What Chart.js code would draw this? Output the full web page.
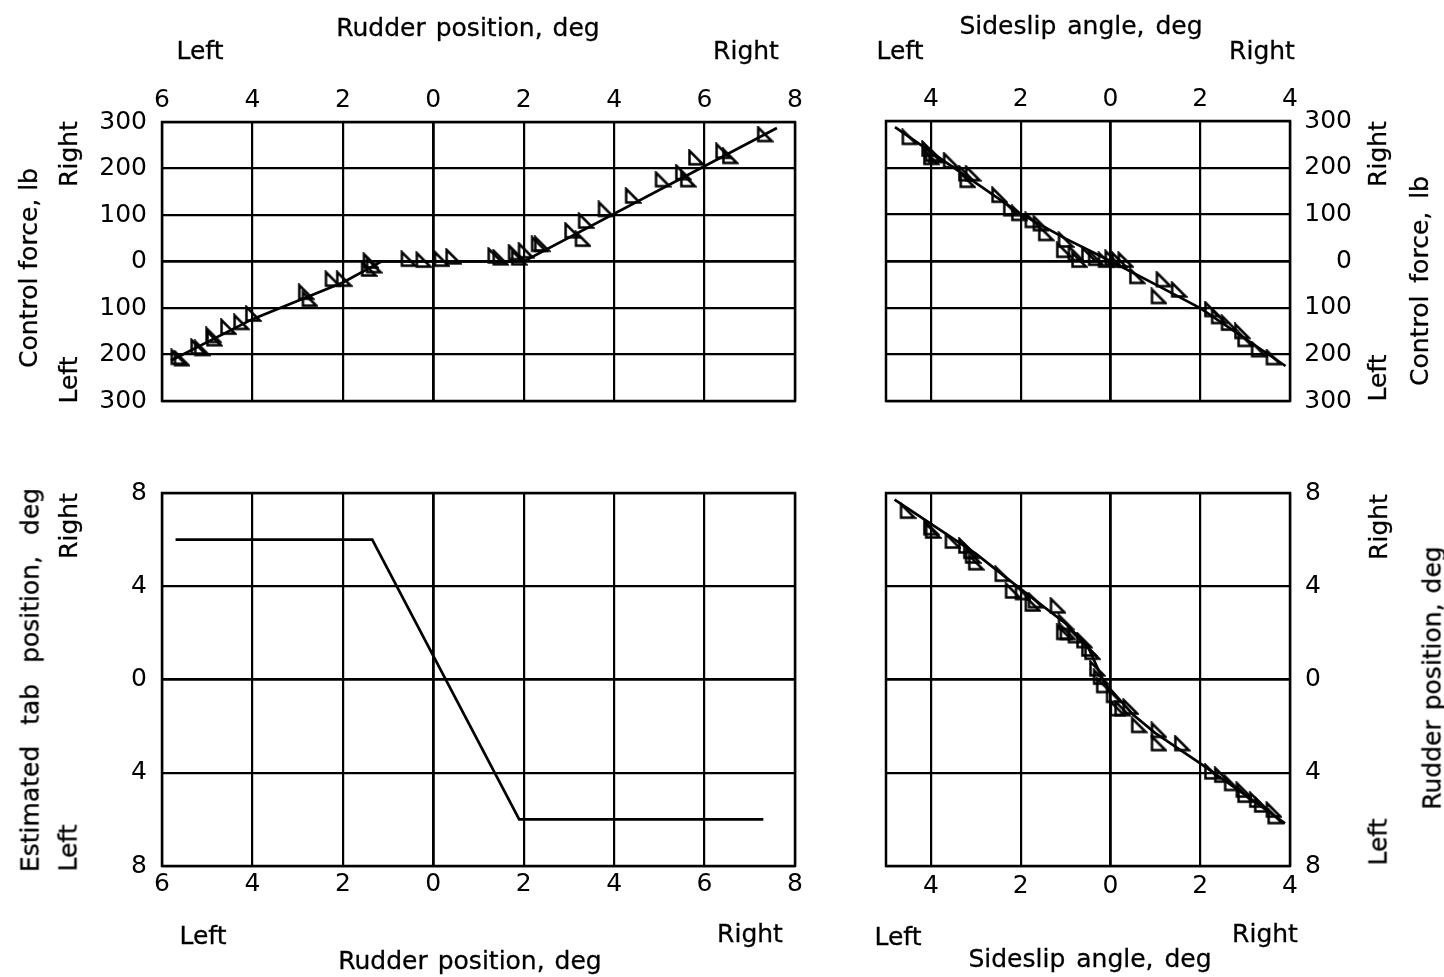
<!DOCTYPE html>
<html><head><meta charset="utf-8">
<script src="https://cdn.jsdelivr.net/npm/chart.js@4.4.1/dist/chart.umd.min.js"></script>
<style>
html,body{margin:0;padding:0;background:#fff;}
#page{position:relative;width:1444px;height:977px;overflow:hidden;background:#fff;}
#page canvas{position:absolute;left:0;top:0;pointer-events:none;}
.lbl{position:absolute;font-family:"DejaVu Sans",sans-serif;font-size:25px;color:#000;white-space:nowrap;line-height:1;transform:translate(-50%,-50%);-webkit-text-stroke:0.3px #000;}
.rot{transform:translate(-50%,-50%) rotate(-90deg);}
</style></head><body><div id="page"></div>
<script>
// ---------------- DATA ----------------
// Tick values
const xTicksRudder = [-6,-4,-2,0,2,4,6,8];
const xTicksBeta   = [-4,-2,0,2,4];
const yTicksForce  = [-300,-200,-100,0,100,200,300];
const yTicksDeg    = [-8,-4,0,4,8];

// Top-left: rudder position (deg) vs control force (lb) - test points
const rudderTL = [-5.64,-5.57,-5.2,-5.12,-4.87,-4.85,-4.54,-4.25,-3.99,-2.82,-2.74,-2.23,-1.98,-1.39,-1.32,-1.43,-0.55,-0.22,0.18,0.44,1.37,1.48,1.82,1.89,2.04,2.33,2.4,3.07,3.3,3.37,3.81,4.41,5.07,5.52,5.63,5.81,6.41,6.56,7.33];
const forceTL  = [-206,-209,-184,-187,-159,-166,-141,-131,-113,-66,-81,-38,-38,1,-9,-16,5,3,5,10,12,8,19,8,23,37,37,66,48,87,112,141,176,191,176,223,237,226,273];
// Top-left faired curve
const curveTLx = [-5.8,-4,-2,-1.15,2.0,7.6];
const curveTLy = [-213,-124,-45,0,0,287];

// Top-right: sideslip angle (deg) vs control force (lb) - test points
const betaTR  = [-4.48,-4.04,-3.96,-4.0,-3.89,-3.56,-3.22,-3.19,-3.07,-2.48,-2.22,-2.04,-1.74,-1.56,-1.44,-1.0,-1.04,-0.78,-0.7,-0.48,-0.33,-0.11,0.04,0.19,0.33,0.59,1.07,1.18,1.52,2.26,2.41,2.63,2.93,3.0,3.3,3.63];
const forceTR = [265,240,229,222,226,215,187,173,187,141,112,102,87,80,59,45,23,16,2,13,6,2,6,2,2,-33,-76,-40,-62,-104,-119,-133,-151,-168,-190,-207];
// Top-right faired curve
const curveTRx = [-4.8,-2,-1,0,1,2,3.9];
const curveTRy = [287,101,48,0,-50,-101,-225];

// Bottom-left: rudder position (deg) vs estimated tab position (deg)
const tabRudder = [-5.7,-1.35,1.9,7.3];
const tabPos    = [6,6,-6,-6];

// Bottom-right: sideslip angle (deg) vs rudder position (deg) - test points
const betaBR   = [-4.52,-4.0,-3.96,-3.52,-3.22,-3.11,-3.07,-3.0,-2.41,-2.18,-1.96,-1.67,-1.74,-1.18,-1.0,-1.04,-0.96,-0.78,-0.59,-0.48,-0.41,-0.3,-0.22,-0.15,0.07,0.15,0.26,0.44,0.63,1.07,1.07,1.59,2.26,2.48,2.7,2.96,3.0,3.26,3.37,3.63,3.67];
const rudderBR = [7.22,6.51,6.37,5.94,5.73,5.5,5.3,5.01,4.52,3.8,3.73,3.38,3.24,3.16,2.45,2.02,2.02,1.88,1.67,1.31,1.17,0.46,0.1,-0.26,-0.68,-1.25,-1.25,-1.18,-1.97,-2.18,-2.75,-2.75,-3.96,-4.1,-4.46,-4.74,-4.96,-5.17,-5.38,-5.6,-5.88];
// Bottom-right faired curve
const curveBRx = [-4.81,-3,-2.04,-1,-0.5,-0.15,0.5,1,2,3,3.89];
const curveBRy = [7.72,5.4,3.94,2.4,1.4,-0.1,-1.5,-2.3,-3.6,-4.95,-6.17];

// Text labels: text, centre x, centre y, rotated, word spacing
const labels = [
  ["Rudder position, deg", 468, 27, false, 2],
  ["Left", 200, 50, false, 0],
  ["Right", 746, 50, false, 0],
  ["Sideslip angle, deg", 1081, 25, false, 3],
  ["Left", 900, 50, false, 0],
  ["Right", 1262, 50, false, 0],
  ["Control force, lb", 28, 268, true, 0],
  ["Right", 68, 154, true, 0],
  ["Left", 68, 380, true, 0],
  ["Right", 1377, 154, true, 0],
  ["Left", 1377, 378, true, 0],
  ["Control force, lb", 1419, 281, true, 5],
  ["Estimated tab position, deg", 30, 680, true, 13],
  ["Right", 68, 526, true, 0],
  ["Left", 68, 848, true, 0],
  ["Right", 1378, 527, true, 0],
  ["Left", 1378, 842, true, 0],
  ["Rudder position, deg", 1432, 678, true, 2],
  ["Left", 203, 935, false, 0],
  ["Right", 750, 933, false, 0],
  ["Rudder position, deg", 470, 960, false, 2],
  ["Left", 898, 936, false, 0],
  ["Right", 1265, 933, false, 0],
  ["Sideslip angle, deg", 1090, 958, false, 3]
];

// ---------------- RENDER ----------------
const W = 1444, H = 977;
const page = document.getElementById('page');
Chart.defaults.font.family = '"DejaVu Sans", sans-serif';
Chart.defaults.font.size = 25;
Chart.defaults.color = '#000';

function triangleMarker() {
  const c = document.createElement('canvas');
  c.width = 18; c.height = 18;
  const g = c.getContext('2d');
  g.strokeStyle = '#000'; g.lineWidth = 2.5; g.lineJoin = 'miter';
  g.beginPath(); g.moveTo(2.5, 2); g.lineTo(2.5, 15.5); g.lineTo(16, 15.5); g.closePath(); g.stroke();
  return c;
}
const marker = triangleMarker();

const framePlugin = {
  id: 'frame',
  beforeDatasetsDraw(chart) {
    const {ctx, chartArea: a} = chart;
    ctx.save(); ctx.strokeStyle = '#000'; ctx.lineWidth = 2.5;
    ctx.strokeRect(a.left, a.top, a.right - a.left, a.bottom - a.top);
    ctx.restore();
  }
};

function pts(xs, ys) { return xs.map((x, i) => ({x: x, y: ys[i]})); }
const gridWidth = c => (c.tick && c.tick.value === 0 ? 2.8 : 2.2);

function panel(cfg) {
  const cv = document.createElement('canvas');
  cv.width = W; cv.height = H;
  cv.style.width = W + 'px'; cv.style.height = H + 'px';
  page.appendChild(cv);
  const datasets = [];
  if (cfg.curve) datasets.push({data: cfg.curve, showLine: true, pointRadius: 0, borderColor: '#000', borderWidth: 2.7, tension: 0, order: 1});
  if (cfg.points) datasets.push({data: cfg.points, showLine: false, pointStyle: marker, pointRadius: 9, order: 0});
  new Chart(cv, {
    type: 'scatter',
    data: {datasets},
    plugins: [framePlugin],
    options: {
      responsive: false, animation: false, devicePixelRatio: 1,
      layout: {padding: cfg.pad},
      plugins: {legend: {display: false}, tooltip: {enabled: false}},
      scales: {
        x: {
          type: 'linear', position: cfg.xPos, min: cfg.xMin, max: cfg.xMax,
          afterBuildTicks: s => { s.ticks = cfg.xTicks.map(v => ({value: v})); },
          afterFit: s => { s.height = cfg.xH; },
          grid: {color: '#000', lineWidth: gridWidth, drawTicks: false},
          border: {display: false},
          ticks: {padding: cfg.xPadT, maxRotation: 0, autoSkip: false, callback: v => String(Math.abs(v))}
        },
        y: {
          type: 'linear', position: cfg.yPos, min: cfg.yMin, max: cfg.yMax,
          afterBuildTicks: s => { s.ticks = cfg.yTicks.map(v => ({value: v})); },
          afterFit: s => { s.width = cfg.yW; },
          grid: {color: '#000', lineWidth: gridWidth, drawTicks: false},
          border: {display: false},
          ticks: {padding: cfg.yPadT, crossAlign: cfg.yAlign, autoSkip: false, callback: v => String(Math.abs(v))}
        }
      }
    }
  });
}

// Top-left
panel({
  pad: {top: 0, left: 0, right: W - 795, bottom: H - 401},
  xPos: 'top', xMin: -6, xMax: 8, xTicks: xTicksRudder, xH: 122, xPadT: 7,
  yPos: 'left', yMin: -300, yMax: 300, yTicks: yTicksForce, yW: 162, yPadT: 15, yAlign: 'near',
  points: pts(rudderTL, forceTL), curve: pts(curveTLx, curveTLy)
});
// Top-right (right axis labels right-aligned at x = 1352)
panel({
  pad: {top: 0, left: 886, right: W - 1352, bottom: H - 401},
  xPos: 'top', xMin: -5, xMax: 4, xTicks: xTicksBeta, xH: 121, xPadT: 7,
  yPos: 'right', yMin: -300, yMax: 300, yTicks: yTicksForce, yW: 1352 - 1290, yPadT: 16, yAlign: 'far',
  points: pts(betaTR, forceTR), curve: pts(curveTRx, curveTRy)
});
// Bottom-left
panel({
  pad: {top: 493, left: 0, right: W - 795, bottom: 0},
  xPos: 'bottom', xMin: -6, xMax: 8, xTicks: xTicksRudder, xH: H - 866, xPadT: 3,
  yPos: 'left', yMin: -8, yMax: 8, yTicks: yTicksDeg, yW: 162, yPadT: 15, yAlign: 'near',
  curve: pts(tabRudder, tabPos)
});
// Bottom-right
panel({
  pad: {top: 493, left: 886, right: 0, bottom: 0},
  xPos: 'bottom', xMin: -5, xMax: 4, xTicks: xTicksBeta, xH: H - 866, xPadT: 5,
  yPos: 'right', yMin: -8, yMax: 8, yTicks: yTicksDeg, yW: W - 1290, yPadT: 15, yAlign: 'near',
  points: pts(betaBR, rudderBR), curve: pts(curveBRx, curveBRy)
});

labels.forEach(([t, x, y, rot, ws]) => {
  const d = document.createElement('div');
  d.className = 'lbl' + (rot ? ' rot' : '');
  d.textContent = t;
  d.style.left = x + 'px'; d.style.top = y + 'px';
  d.style.wordSpacing = ws + 'px';
  page.appendChild(d);
});
</script>
</body></html>
